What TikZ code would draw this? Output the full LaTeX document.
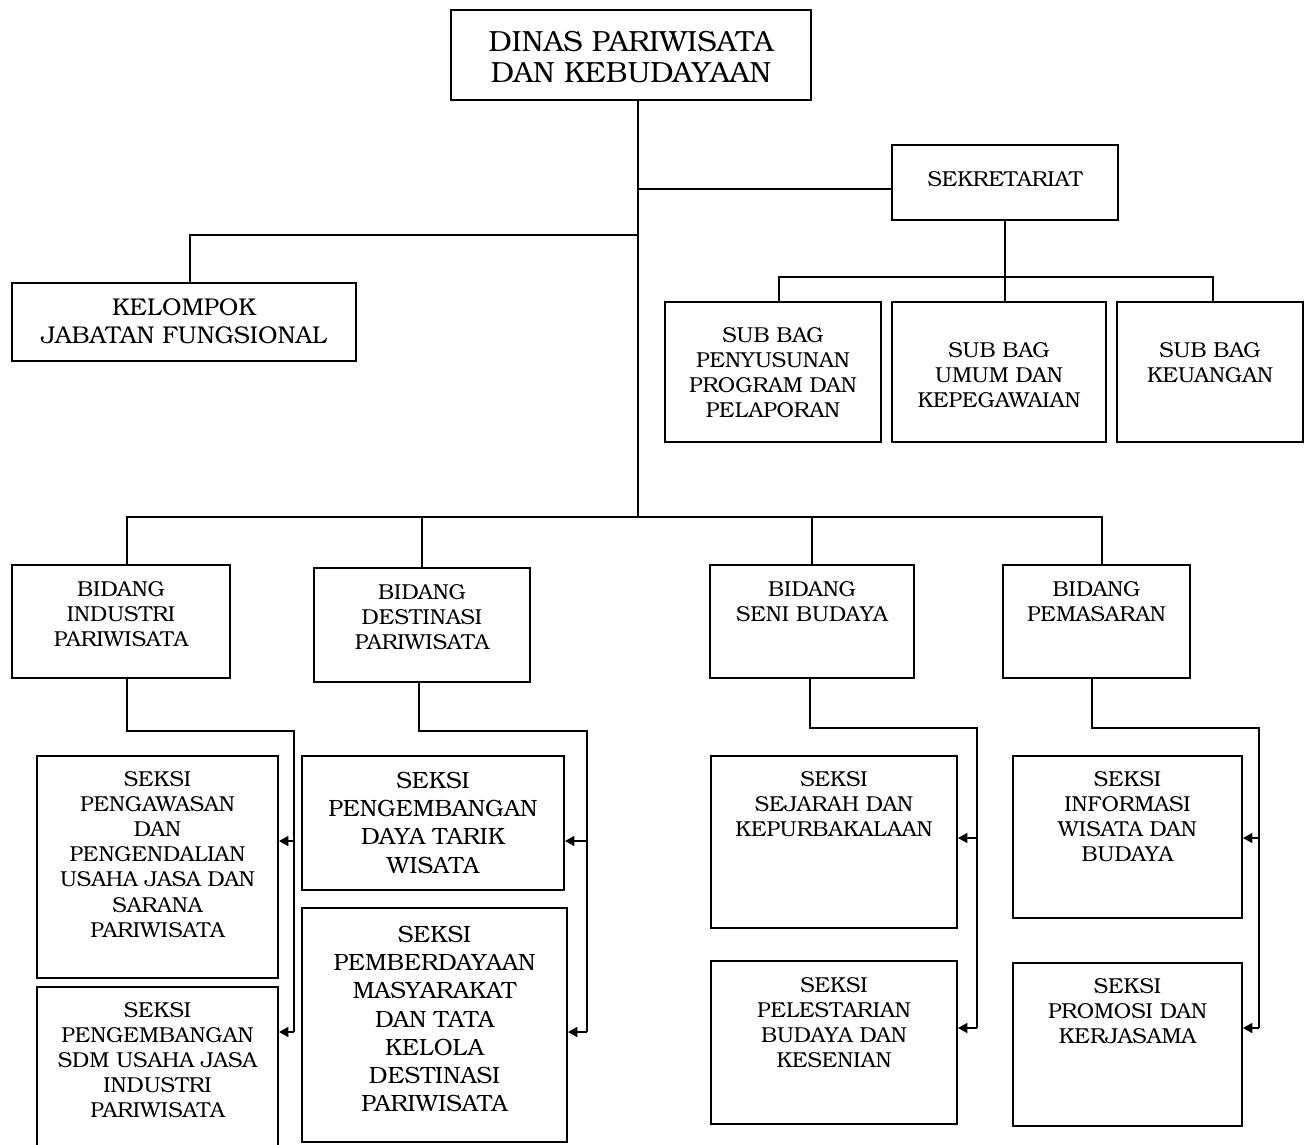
\documentclass[tikz,border=0pt]{standalone}
\usepackage{fontspec}
\setmainfont{TeX Gyre Bonum}
\usetikzlibrary{positioning,fit,arrows.meta}

\tikzset{
  unit/.style={draw, line width=1.1pt, inner sep=0pt},
  caption/.style={inner sep=0pt, align=center, font=\fontsize{12.3}{14.3}\selectfont},
  bigcaption/.style={caption, font=\fontsize{13.4}{16}\selectfont},
  headcaption/.style={caption, font=\fontsize{16.6}{17.7}\selectfont},
  link/.style={line width=1.1pt},
  feed/.style={line width=1.1pt, -{Triangle[length=0.19cm, width=0.2cm]}}
}

\begin{document}
\begin{tikzpicture}[x=0.02cm, y=-0.02cm]

    \useasboundingbox (0,0) rectangle (1304,1144);

    %% Kepala dinas
    \node[unit, fit={(451,10) (811,100)}] (kadis) {};
    \node[headcaption, below=0.44cm of kadis.north] (t-kadis) {DINAS PARIWISATA\\DAN KEBUDAYAAN};

    % Sekretariat and sub bagian
    \node[unit, fit={(892,145) (1118,220)}] (sekr) {};
    \node[caption, below=0.54cm of sekr.north] (t-sekr) {SEKRETARIAT};

    \node[unit, fit={(665,302) (881,442)}] (sbpp) {};
    \node[caption, below=0.52cm of sbpp.north] (t-sbpp) {SUB BAG\\PENYUSUNAN\\PROGRAM DAN\\PELAPORAN};
    \node[unit, fit={(892,302) (1106,442)}] (sbup) {};
    \node[caption, below=0.82cm of sbup.north] (t-sbup) {SUB BAG\\UMUM DAN\\KEPEGAWAIAN};
    \node[unit, fit={(1117,302) (1303,442)}] (sbku) {};
    \node[caption, below=0.82cm of sbku.north] (t-sbku) {SUB BAG\\KEUANGAN};

    % Kelompok jabatan fungsional
    \node[unit, fit={(12,283) (356,361)}] (kjf) {};
    \node[bigcaption, font=\fontsize{13.8}{16}\selectfont, below=0.33cm of kjf.north] (t-kjf) {KELOMPOK\\JABATAN FUNGSIONAL};

    % Bidang
    \node[unit, fit={(12,565) (230,678)}] (bind) {};
    \node[caption, below=0.34cm of bind.north] (t-bind) {BIDANG\\INDUSTRI\\PARIWISATA};
    \node[unit, fit={(314,568) (530,682)}] (bdes) {};
    \node[caption, below=0.34cm of bdes.north] (t-bdes) {BIDANG\\DESTINASI\\PARIWISATA};
    \node[unit, fit={(710,565) (914,678)}] (bsen) {};
    \node[caption, below=0.34cm of bsen.north] (t-bsen) {BIDANG\\SENI BUDAYA};
    \node[unit, fit={(1003,565) (1190,678)}] (bpem) {};
    \node[caption, below=0.34cm of bpem.north] (t-bpem) {BIDANG\\PEMASARAN};

    % Seksi
    \node[unit, fit={(37,756) (278,978)}] (spus) {};
    \node[caption, below=0.32cm of spus.north] (t-spus) {SEKSI\\PENGAWASAN\\DAN\\PENGENDALIAN\\USAHA JASA DAN\\SARANA\\PARIWISATA};
    \node[unit, fit={(37,987) (278,1170)}] (ssdm) {};
    \node[caption, below=0.32cm of ssdm.north] (t-ssdm) {SEKSI\\PENGEMBANGAN\\SDM USAHA JASA\\INDUSTRI\\PARIWISATA};

    \node[unit, fit={(302,756) (564,890)}] (sdtw) {};
    \node[bigcaption, below=0.34cm of sdtw.north] (t-sdtw) {SEKSI\\PENGEMBANGAN\\DAYA TARIK\\WISATA};
    \node[unit, fit={(302,908) (567,1142)}] (spmd) {};
    \node[bigcaption, below=0.38cm of spmd.north] (t-spmd) {SEKSI\\PEMBERDAYAAN\\MASYARAKAT\\DAN TATA\\KELOLA\\DESTINASI\\PARIWISATA};

    \node[unit, fit={(711,756) (957,928)}] (ssjk) {};
    \node[caption, below=0.32cm of ssjk.north] (t-ssjk) {SEKSI\\SEJARAH DAN\\KEPURBAKALAAN};
    \node[unit, fit={(711,961) (957,1124)}] (spbk) {};
    \node[caption, below=0.34cm of spbk.north] (t-spbk) {SEKSI\\PELESTARIAN\\BUDAYA DAN\\KESENIAN};

    \node[unit, fit={(1013,756) (1242,918)}] (siwb) {};
    \node[caption, below=0.32cm of siwb.north] (t-siwb) {SEKSI\\INFORMASI\\WISATA DAN\\BUDAYA};
    \node[unit, fit={(1013,963) (1242,1126)}] (spkj) {};
    \node[caption, below=0.32cm of spkj.north] (t-spkj) {SEKSI\\PROMOSI DAN\\KERJASAMA};

    %% Garis komando
    \coordinate (jsek) at (638,189);
    \coordinate (jkjf) at (638,235);
    \coordinate (jbid) at (638,517);
    \draw[link] (jbid |- kadis.south) -- (jbid);
    \draw[link] (jsek) -- (jsek -| sekr.west);
    \coordinate (dkjf) at (190,235);
    \draw[link] (jkjf) -- (dkjf) -- (dkjf |- kjf.north);

    % sekretariat to sub bagian
    \coordinate (sbL) at (779,277);
    \coordinate (sbR) at (1213,277);
    \draw[link] (sekr.south) -- (sekr.south |- sbup.north);
    \draw[link] (sbL |- sbpp.north) -- (sbL) -- (sbR) -- (sbR |- sbku.north);

    % bidang bus
    \coordinate (bL) at (127,517);
    \coordinate (bR) at (1102,517);
    \draw[link] (bL |- bind.north) -- (bL) -- (bR) -- (bR |- bpem.north);
    \draw[link] (bdes.north |- jbid) -- (bdes.north);
    \draw[link] (bsen.north |- jbid) -- (bsen.north);

    % bidang to seksi
    \coordinate (f1) at (294,731);
    \draw[link] (bL |- bind.south) -- (bL |- f1) -- (f1) -- (294,1032);
    \draw[feed] (294,841) -- (spus.east |- 0,841);
    \draw[feed] (294,1032) -- (ssdm.east |- 0,1032);

    \coordinate (f2) at (587,731);
    \draw[link] (419,682) -- (419,731) -- (f2) -- (587,1032);
    \draw[feed] (587,841) -- (sdtw.east |- 0,841);
    \draw[feed] (587,1032) -- (spmd.east |- 0,1032);

    \coordinate (f3) at (977,728);
    \draw[link] (810,678) -- (810,728) -- (f3) -- (977,1028);
    \draw[feed] (977,838) -- (ssjk.east |- 0,838);
    \draw[feed] (977,1028) -- (spbk.east |- 0,1028);

    \coordinate (f4) at (1259,728);
    \draw[link] (1092,678) -- (1092,728) -- (f4) -- (1259,1028);
    \draw[feed] (1259,838) -- (siwb.east |- 0,838);
    \draw[feed] (1259,1028) -- (spkj.east |- 0,1028);

\end{tikzpicture}
\end{document}
